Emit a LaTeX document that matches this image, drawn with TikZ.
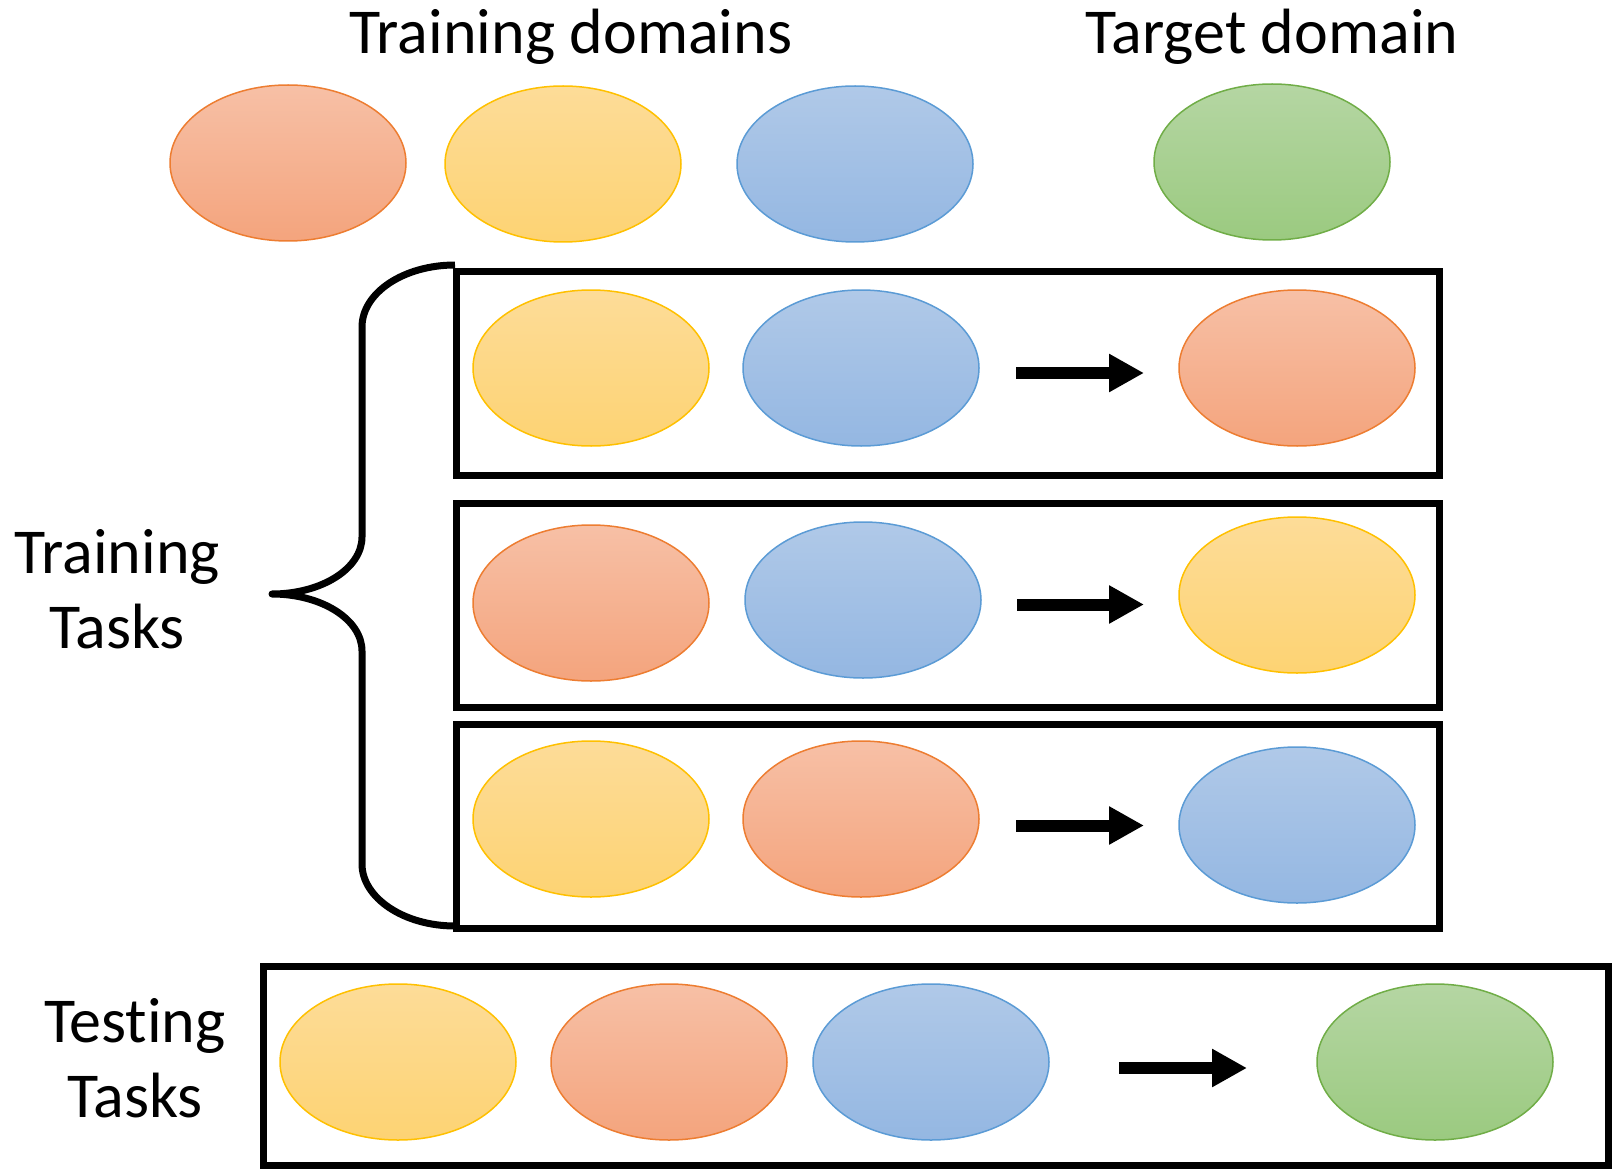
\documentclass[tikz,border=0pt]{standalone}
\usepackage{fontspec}
\setmainfont{Carlito}[Ligatures=NoCommon]
\usetikzlibrary{shapes.geometric,arrows.meta}

% domain colours: outline, gradient top, gradient bottom
\definecolor{orLine}{HTML}{ED7D31}
\definecolor{orTop}{HTML}{F7C0A6}
\definecolor{orBot}{HTML}{F4A47D}
\definecolor{yeLine}{HTML}{FFC000}
\definecolor{yeTop}{HTML}{FDDC98}
\definecolor{yeBot}{HTML}{FDD373}
\definecolor{blLine}{HTML}{5B9BD5}
\definecolor{blTop}{HTML}{B0C9E8}
\definecolor{blBot}{HTML}{94B7E2}
\definecolor{grLine}{HTML}{70AD47}
\definecolor{grTop}{HTML}{B5D6A3}
\definecolor{grBot}{HTML}{9BCA80}

\begin{document}
\begin{tikzpicture}[x=1pt,y=-1pt,
  dom/.style={ellipse, minimum width=236pt, minimum height=156pt,
    inner sep=0pt, line width=1.5pt},
  dOrange/.style={dom, draw=orLine, top color=orTop, bottom color=orBot},
  dYellow/.style={dom, draw=yeLine, top color=yeTop, bottom color=yeBot},
  dBlue/.style={dom, draw=blLine, top color=blTop, bottom color=blBot},
  dGreen/.style={dom, draw=grLine, top color=grTop, bottom color=grBot},
  taskbox/.style={draw=black, line width=7pt, inner sep=0pt},
  flow/.style={line width=12pt, -{Triangle[length=35pt,width=36pt]}},
  lbl/.style={font=\fontsize{64}{75}\selectfont, align=center, anchor=base},
  bracestroke/.style={line width=7pt, line join=round}]

\useasboundingbox (0,0) rectangle (1612,1169);

% headings
\node[lbl] (trdom) at (571,54) {Training domains};
\node[lbl] (tgdom) at (1272,54) {Target domain};

% domains
\node[dOrange] (s1) at (288,163) {};
\node[dYellow] (s2) at (563,164) {};
\node[dBlue]   (s3) at (855,164) {};
\node[dGreen]  (tg) at (1272,162) {};

% training task boxes
\node[taskbox, minimum width=983pt, minimum height=204pt] (task1) at (948,373.5) {};
\node[taskbox, minimum width=983pt, minimum height=204pt] (task2) at (948,605) {};
\node[taskbox, minimum width=983pt, minimum height=204pt] (task3) at (948,826.5) {};
\node[taskbox, minimum width=1345pt, minimum height=199pt] (test) at (936,1066) {};

% task 1
\node[dYellow] (t1a) at (591,368) {};
\node[dBlue]   (t1b) at (861,368) {};
\node[dOrange] (t1c) at (1297,368) {};
\coordinate (f1s) at (1016,373);
\coordinate (f1e) at (1144,373);
\draw[flow] (f1s) -- (f1e);

% task 2
\node[dOrange] (t2a) at (591,603) {};
\node[dBlue]   (t2b) at (863,600) {};
\node[dYellow] (t2c) at (1297,595) {};
\coordinate (f2s) at (1017,604.5);
\coordinate (f2e) at (1144,604.5);
\draw[flow] (f2s) -- (f2e);

% task 3
\node[dYellow] (t3a) at (591,819) {};
\node[dOrange] (t3b) at (861,819) {};
\node[dBlue]   (t3c) at (1297,825) {};
\coordinate (f3s) at (1016,825.5);
\coordinate (f3e) at (1144,825.5);
\draw[flow] (f3s) -- (f3e);

% testing task
\node[dYellow] (e1) at (398,1062) {};
\node[dOrange] (e2) at (669,1062) {};
\node[dBlue]   (e3) at (931,1062) {};
\node[dGreen]  (e4) at (1435,1062) {};
\coordinate (f4s) at (1119,1068);
\coordinate (f4e) at (1247,1068);
\draw[flow] (f4s) -- (f4e);

% brace grouping the training tasks
\coordinate (bTop) at (455,265);
\coordinate (bTip) at (272,594);
\coordinate (bBot) at (455,926);
\draw[bracestroke] (bTop)
  .. controls (403.6,265) and (362,292.8) .. (362,327)
  -- (362,537)
  .. controls (362,568.5) and (321.7,594) .. (bTip)
  .. controls (321.7,594) and (362,619.5) .. (362,651)
  -- (362,864)
  .. controls (362,897.7) and (403.6,926) .. (bBot);

% side labels (anchored at the baseline of the second line)
\node[lbl] (trtask) at (117,648) {Training\\Tasks};
\node[lbl] (tetask) at (135,1117) {Testing\\Tasks};

\end{tikzpicture}
\end{document}
